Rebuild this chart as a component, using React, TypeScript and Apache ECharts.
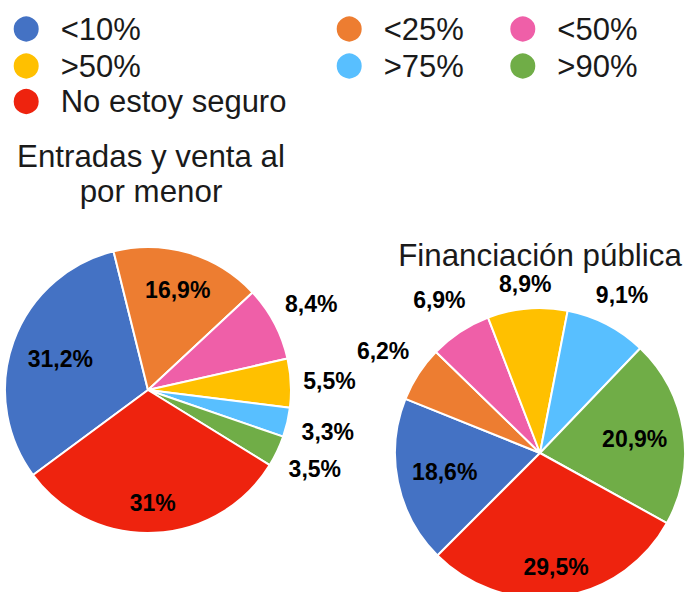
import React, { useEffect, useRef } from "react";
import * as echarts from "echarts";

// ---- data ----
const categories = ["<10%", "<25%", "<50%", ">50%", ">75%", ">90%", "No estoy seguro"];
const retailValues = [31.2, 16.9, 8.4, 5.5, 3.3, 3.5, 31];
const publicValues = [18.6, 6.2, 6.9, 8.9, 9.1, 20.9, 29.5];
const chartTitles = ["Entradas y venta al\npor menor", "Financiación pública"];

// ---- styles / layout ----
const COLORS = ["#4472C4", "#ED7D31", "#EF5FA8", "#FFC000", "#58BFFF", "#70AD47", "#EE230E"];
const FONT = "'Liberation Sans', Arial, Helvetica, sans-serif";
// radial position of each slice label, as a fraction of the pie radius
const retailLabelRatio = [0.63, 0.71, 1.27, 1.25, 1.27, 1.27, 0.77];
const publicLabelRatio = [0.65, 1.27, 1.24, 1.15, 1.21, 0.64, 0.77];
// legend grid: [column left, row top] for each category
const legendSlots: [number, number][] = [
  [11.7, 13.5], [334.7, 13.5], [508.3, 13.5],
  [11.7, 50.5], [334.7, 50.5], [508.3, 50.5],
  [11.7, 86],
];

const fmt = (p: any) => `${String(p.value).replace(".", ",")}%`;

function buildPie(
  id: string,
  values: number[],
  center: [number, number],
  r: number,
  startAngle: number,
  ratios: number[]
) {
  const main = {
    type: "pie",
    id,
    center,
    radius: [0, r],
    startAngle,
    clockwise: true,
    avoidLabelOverlap: false,
    data: categories.map((name, i) => ({
      name,
      value: values[i],
      itemStyle: { color: COLORS[i] },
    })),
    itemStyle: { borderColor: "#ffffff", borderWidth: 2 },
    label: { show: false },
    labelLine: { show: false },
    emphasis: { disabled: true },
    z: 2,
  };
  const overlays = categories.map((_, k) => ({
    type: "pie",
    id: `${id}-label-${k}`,
    center,
    radius: [0, 2 * ratios[k] * r],
    startAngle,
    clockwise: true,
    silent: true,
    avoidLabelOverlap: false,
    data: categories.map((name, i) => ({
      name,
      value: values[i],
      label: { show: i === k },
    })),
    itemStyle: { color: "rgba(0,0,0,0)", borderWidth: 0 },
    label: {
      show: false,
      position: "inside",
      formatter: fmt,
      fontSize: 23,
      fontWeight: "bold",
      color: "#000000",
      fontFamily: FONT,
    },
    labelLine: { show: false },
    emphasis: { disabled: true },
    z: 3,
  }));
  return [main, ...overlays];
}

const legendBase = {
  orient: "vertical",
  padding: 0,
  itemGap: 0,
  itemWidth: 27,
  itemHeight: 27,
  icon: "circle",
  selectedMode: false,
  textStyle: {
    fontSize: 31,
    color: "#1a1a1a",
    fontFamily: FONT,
    padding: [0, 0, 0, 16],
  },
};

export default function App() {
  const ref = useRef<HTMLDivElement>(null);
  useEffect(() => {
    if (!ref.current) return;
    const chart = echarts.init(ref.current, null, { renderer: "svg" });
    const titleStyle = {
      fontSize: 31.3,
      fontWeight: "normal",
      lineHeight: 35,
      color: "#1a1a1a",
      fontFamily: FONT,
    };
    chart.setOption({
      animation: false,
      backgroundColor: "#ffffff",
      title: [
        { text: chartTitles[0], left: 151, top: 139, textAlign: "center", padding: 0, textStyle: titleStyle },
        { text: chartTitles[1], left: 540, top: 238, textAlign: "center", padding: 0, textStyle: titleStyle },
      ],
      legend: categories.map((name, i) => ({
        ...legendBase,
        left: legendSlots[i][0],
        top: legendSlots[i][1],
        data: [name],
      })),
      series: [
        ...buildPie("retail", retailValues, [148, 390], 143, 216.5, retailLabelRatio),
        ...buildPie("public", publicValues, [540, 453], 145, 225, publicLabelRatio),
      ],
    });
    return () => chart.dispose();
  }, []);
  return (
    <div
      ref={ref}
      style={{ position: "fixed", left: 0, top: 0, width: 688, height: 592, background: "#fff" }}
    />
  );
}
